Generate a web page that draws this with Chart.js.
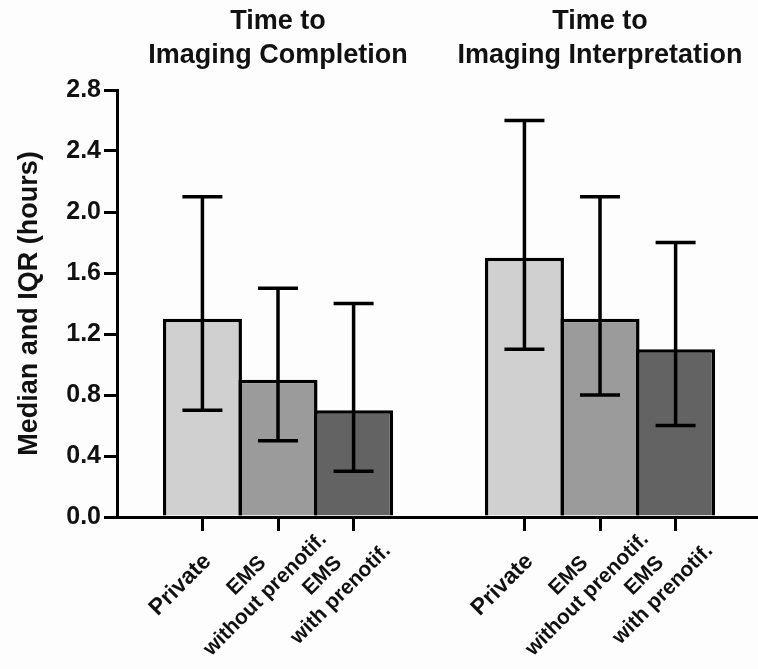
<!DOCTYPE html>
<html lang="en">
<head>
    <meta charset="UTF-8">
    <meta name="viewport" content="initial-scale=1.0">
    <title>Time to Imaging</title>
    <script src="https://cdn.jsdelivr.net/npm/chart.js"></script>
    <style>
        body { margin: 0; padding: 0; background: #fdfdfd; }
        #chart-container { position: relative; width: 758px; height: 669px; }
    </style>
</head>
<body>

<div id="chart-container">
    <canvas id="imagingChart"></canvas>
</div>

<script>
    // Data (hours, median with IQR)
    const groupTitles = [['Time to', 'Imaging Completion'], ['Time to', 'Imaging Interpretation']];
    const categories = [['Private'], ['EMS', 'without prenotif.'], ['EMS', 'with prenotif.']];

    const completionMedian = [1.3, 0.9, 0.7];
    const completionQ1 = [0.7, 0.5, 0.3];
    const completionQ3 = [2.1, 1.5, 1.4];

    const interpretationMedian = [1.7, 1.3, 1.1];
    const interpretationQ1 = [1.1, 0.8, 0.6];
    const interpretationQ3 = [2.6, 2.1, 1.8];

    const barColors = ['#d0d0d0', '#9b9b9b', '#636363'];

    // Layout (in bar widths along the x scale)
    const GROUP_GAP = 1.26;
    const X_MIN = -1.13;
    const X_MAX = 7.35;
    const FONT = '"Liberation Sans", Arial, Helvetica, sans-serif';
    const INK = '#111';

    const medians = completionMedian.concat(interpretationMedian);
    const q1 = completionQ1.concat(interpretationQ1);
    const q3 = completionQ3.concat(interpretationQ3);
    const xLabels = categories.concat(categories);
    const xPos = medians.map((_, i) => Math.floor(i / 3) * (3 + GROUP_GAP) + (i % 3));

    // IQR whiskers
    const iqrPlugin = {
        id: 'iqr',
        afterDatasetsDraw(chart) {
            const { ctx, scales: { x, y } } = chart;
            ctx.save();
            ctx.strokeStyle = '#000';
            ctx.lineWidth = 3.5;
            xPos.forEach((v, i) => {
                const px = x.getPixelForValue(v);
                const lo = y.getPixelForValue(q1[i]);
                const hi = y.getPixelForValue(q3[i]);
                ctx.beginPath();
                ctx.moveTo(px, lo); ctx.lineTo(px, hi);
                ctx.moveTo(px - 20, lo); ctx.lineTo(px + 20, lo);
                ctx.moveTo(px - 20, hi); ctx.lineTo(px + 20, hi);
                ctx.stroke();
            });
            ctx.restore();
        }
    };

    // Group titles above each set of bars
    const groupTitlePlugin = {
        id: 'groupTitles',
        afterDraw(chart) {
            const { ctx, scales: { x } } = chart;
            ctx.save();
            ctx.font = 'bold 27px ' + FONT;
            ctx.fillStyle = INK;
            ctx.textAlign = 'center';
            ctx.textBaseline = 'alphabetic';
            groupTitles.forEach((lines, g) => {
                const cx = x.getPixelForValue(xPos[g * 3 + 1]);
                lines.forEach((line, j) => ctx.fillText(line, cx, 29 + j * 34));
            });
            ctx.restore();
        }
    };

    // Rotated, centred category labels hanging off each tick
    const xLabelPlugin = {
        id: 'xLabels',
        afterDraw(chart) {
            const { ctx, scales: { x } } = chart;
            const axisY = chart.chartArea.bottom;
            xPos.forEach((v, i) => {
                const lines = xLabels[i];
                const size = lines.length === 1 ? 23 : 21;
                const lh = 26;
                ctx.save();
                ctx.font = 'bold ' + size + 'px ' + FONT;
                ctx.fillStyle = INK;
                ctx.translate(x.getPixelForValue(v) - 22, axisY + 68);
                ctx.rotate(-Math.PI / 4);
                ctx.textAlign = 'center';
                ctx.textBaseline = 'middle';
                lines.forEach((line, j) => ctx.fillText(line, 0, (j - (lines.length - 1) / 2) * lh));
                ctx.restore();
            });
        }
    };

    const ctx = document.getElementById('imagingChart').getContext('2d');
    const imagingChart = new Chart(ctx, {
        type: 'bar',
        data: {
            datasets: [{
                data: xPos.map((v, i) => ({ x: v, y: medians[i] })),
                backgroundColor: xPos.map((_, i) => barColors[i % 3]),
                borderColor: '#000',
                borderWidth: 3.5,
                barPercentage: 1.046,
                categoryPercentage: 1
            }]
        },
        options: {
            responsive: true,
            maintainAspectRatio: false,
            animation: false,
            layout: { padding: { top: 90, right: 0, bottom: 0, left: 0 } },
            plugins: {
                legend: { display: false },
                tooltip: { enabled: false }
            },
            scales: {
                x: {
                    type: 'linear',
                    offset: false,
                    min: X_MIN,
                    max: X_MAX,
                    afterBuildTicks: s => { s.ticks = xPos.map(v => ({ value: v })); },
                    afterFit: s => { s.height = 152; },
                    ticks: { display: false },
                    grid: { offset: false, drawOnChartArea: false, drawTicks: true, tickLength: 14, lineWidth: 3, color: '#000' },
                    border: { display: true, color: '#000', width: 3 }
                },
                y: {
                    min: 0,
                    max: 2.8,
                    afterFit: s => { s.width = 117; },
                    ticks: {
                        stepSize: 0.4,
                        padding: 3,
                        color: INK,
                        font: { family: FONT, size: 25, weight: 'bold' },
                        callback: v => v.toFixed(1)
                    },
                    grid: { drawOnChartArea: false, drawTicks: true, tickLength: 13, lineWidth: 3, color: '#000' },
                    border: { display: true, color: '#000', width: 3 },
                    title: {
                        display: true,
                        text: 'Median and IQR (hours)',
                        color: INK,
                        font: { family: FONT, size: 27, weight: 'bold' },
                        padding: { top: 13, bottom: 0 }
                    }
                }
            }
        },
        plugins: [iqrPlugin, groupTitlePlugin, xLabelPlugin]
    });
</script>

</body>
</html>
